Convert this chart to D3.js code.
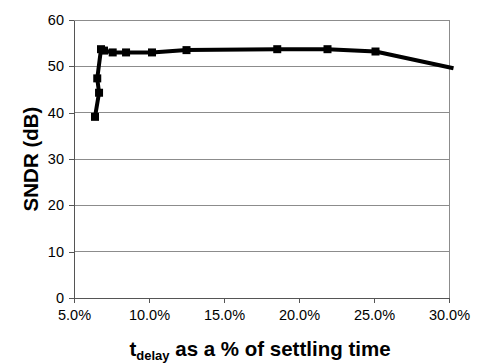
<!DOCTYPE html>
<html>
<head>
<meta charset="utf-8">
<script src="https://cdn.jsdelivr.net/npm/d3@7"></script>
<style>
  html, body { margin: 0; padding: 0; background: #fff; }
  svg { display: block; font-family: "Liberation Sans", Arial, sans-serif; }
</style>
</head>
<body>
<svg id="chart" width="479" height="364"></svg>
<script>
// t_delay as a percentage of the settling time, and the resulting SNDR (dB)
const delayPct = [6.4, 6.67, 6.55, 6.8, 7.0, 7.58, 8.47, 10.2, 12.5, 18.55, 21.9, 25.1, 30.3];
const sndrDb   = [39.1, 44.3, 47.4, 53.7, 53.4, 53.0, 53.0, 53.0, 53.5, 53.7, 53.7, 53.2, 49.6];
// the last sample runs past the axis end and is drawn without a marker
const hasMarker = [1, 1, 1, 1, 1, 1, 1, 1, 1, 1, 1, 1, 0];

const xTicks = [5, 10, 15, 20, 25, 30];
const yTicks = [0, 10, 20, 30, 40, 50, 60];

const svg = d3.select("#chart");
const plotL = 74, plotR = 449, plotT = 20, plotB = 298;

const x = d3.scaleLinear().domain([5, 30]).range([plotL, plotR]);
const y = d3.scaleLinear().domain([0, 60]).range([plotB, plotT]);

// horizontal gridlines
svg.append("g")
  .selectAll("line")
  .data(yTicks.filter(d => d > 0))
  .join("line")
  .attr("x1", plotL).attr("x2", plotR)
  .attr("y1", d => y(d)).attr("y2", d => y(d))
  .attr("stroke", "#8c8c8c")
  .attr("stroke-width", 1)
  .attr("shape-rendering", "crispEdges");

// right border of the plot area
svg.append("line")
  .attr("x1", plotR).attr("x2", plotR)
  .attr("y1", plotT).attr("y2", plotB)
  .attr("stroke", "#8c8c8c")
  .attr("shape-rendering", "crispEdges");

// axes
const xAxis = d3.axisBottom(x)
  .tickValues(xTicks)
  .tickFormat(d => d.toFixed(1) + "%")
  .tickSize(5)
  .tickSizeOuter(0)
  .tickPadding(7);
const yAxis = d3.axisLeft(y)
  .tickValues(yTicks)
  .tickFormat(d3.format("d"))
  .tickSize(5)
  .tickSizeOuter(0)
  .tickPadding(5);

const gx = svg.append("g").attr("transform", `translate(0,${plotB})`).call(xAxis);
const gy = svg.append("g").attr("transform", `translate(${plotL},0)`).call(yAxis);

[gx, gy].forEach(g => {
  g.selectAll("path, line").attr("stroke", "#555").attr("shape-rendering", "crispEdges");
  g.selectAll("text").attr("font-size", 14.5).attr("fill", "#000")
    .attr("font-family", "'Liberation Sans', Arial, sans-serif");
});

// data line
const line = d3.line().x((d, i) => x(delayPct[i])).y(d => y(d));
svg.append("path")
  .datum(sndrDb)
  .attr("d", line)
  .attr("fill", "none")
  .attr("stroke", "#000")
  .attr("stroke-width", 4)
  .attr("stroke-linejoin", "round");

// square markers
const ms = 8;
svg.append("g")
  .selectAll("rect")
  .data(sndrDb.map((v, i) => ({ v, i })).filter(d => hasMarker[d.i]))
  .join("rect")
  .attr("x", d => x(delayPct[d.i]) - ms / 2)
  .attr("y", d => y(d.v) - ms / 2)
  .attr("width", ms).attr("height", ms)
  .attr("fill", "#000");

// axis titles
const xt = svg.append("text")
  .attr("x", 260)
  .attr("y", 356)
  .attr("text-anchor", "middle")
  .attr("font-size", 20.5)
  .attr("font-weight", "bold");
xt.append("tspan").text("t");
xt.append("tspan").attr("font-size", 13).attr("dy", 4).text("delay");
xt.append("tspan").attr("dy", -4).text(" as a % of settling time");

svg.append("text")
  .attr("transform", `translate(38,${(plotT + plotB) / 2}) rotate(-90)`)
  .attr("text-anchor", "middle")
  .attr("font-size", 20.5)
  .attr("font-weight", "bold")
  .text("SNDR (dB)");
</script>
</body>
</html>
